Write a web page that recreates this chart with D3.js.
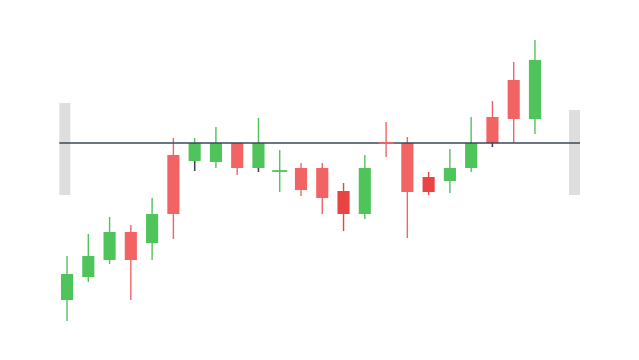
<!DOCTYPE html>
<html>
<head>
<meta charset="utf-8">
<script src="https://cdn.jsdelivr.net/npm/d3@7"></script>
<style>
  body { margin: 0; background: #fff; }
  svg { display: block; }
</style>
</head>
<body>
<svg id="chart" width="639" height="360"></svg>
<script>
// candle values, relative to the baseline (0)
const opens  = [-15.7, -13.4, -11.7, -8.9, -10.0, -1.2, -1.8, -1.9, 0, -2.5, -2.8, -2.5, -2.5, -4.8, -7.1, 0, 0, -3.4, -3.8, -2.5, 2.6, 6.3, 2.4]
const closes = [-13.1, -11.3, -8.9, -11.7, -7.1, -7.1, 0, 0, -2.5, 0, -2.8, -4.7, -5.5, -7.1, -2.5, 0, -4.9, -4.9, -2.5, 0, 0, 2.4, 8.3]
const highs  = [-11.3, -9.1, -7.4, -8.2, -5.5, 0.5, 0.5, 1.6, 0, 2.5, -0.7, -2.0, -2.0, -4.0, -1.2, 2.1, 0.6, -2.9, -0.6, 2.6, 4.2, 8.1, 10.3]
const lows   = [-17.8, -13.9, -12.1, -15.7, -11.7, -9.6, -2.8, -2.5, -3.2, -2.9, -4.9, -5.3, -7.1, -8.8, -7.6, -1.4, -9.5, -5.2, -5.0, -2.9, -0.4, 0, 0.9]
const tones  = ['up', 'up', 'up', 'down', 'up', 'down', 'up', 'up', 'down', 'up', 'up', 'down', 'down', 'deep', 'up', 'down', 'down', 'deep', 'up', 'up', 'down', 'down', 'up']
const darkTails = [6, 9, 20]
const baseline = 0
const handleLow = -5.2
const handleHigh = [4.0, 3.3]

const colors = { up: '#4fc45b', down: '#f26464', deep: '#e94343' }

const svg = d3.select('#chart')

const x = d3.scaleBand()
  .domain(d3.range(opens.length))
  .range([56.4, 545.6])
  .paddingInner(0.43)
  .paddingOuter(0.215)

const y = d3.scaleLinear()
  .domain([-20, 14.3])
  .range([343, 0])

const data = opens.map((o, i) => ({
  i, open: o, close: closes[i], high: highs[i], low: lows[i], tone: tones[i]
}))

// gray handles at the ends of the baseline
const lineX = [59.3, 580]
const hw = 11
svg.append('rect')
  .attr('x', lineX[0]).attr('y', y(handleHigh[0]))
  .attr('width', hw).attr('height', y(handleLow) - y(handleHigh[0]))
  .attr('fill', '#dedede')
svg.append('rect')
  .attr('x', lineX[1] - hw).attr('y', y(handleHigh[1]))
  .attr('width', hw).attr('height', y(handleLow) - y(handleHigh[1]))
  .attr('fill', '#dedede')

const g = svg.append('g')
const bw = x.bandwidth()
const cx = d => x(d.i) + bw / 2

// wicks
g.selectAll('line.wick')
  .data(data)
  .enter().append('line')
  .attr('class', 'wick')
  .attr('x1', cx).attr('x2', cx)
  .attr('y1', d => y(d.high))
  .attr('y2', d => y(d.low))
  .attr('stroke', d => colors[d.tone])
  .attr('stroke-width', 1.4)

// dark tail bits under a few candles
g.selectAll('line.tail')
  .data(data.filter(d => darkTails.includes(d.i)))
  .enter().append('line')
  .attr('class', 'tail')
  .attr('x1', cx).attr('x2', cx)
  .attr('y1', d => y(Math.min(d.open, d.close)))
  .attr('y2', d => y(d.low))
  .attr('stroke', '#3a4660')
  .attr('stroke-width', 1.4)

// bodies
g.selectAll('rect.body')
  .data(data.filter(d => d.open !== d.close))
  .enter().append('rect')
  .attr('class', 'body')
  .attr('x', d => x(d.i))
  .attr('width', bw)
  .attr('y', d => y(Math.max(d.open, d.close)))
  .attr('height', d => Math.abs(y(d.open) - y(d.close)))
  .attr('fill', d => colors[d.tone])

// baseline
svg.append('line')
  .attr('x1', lineX[0]).attr('x2', lineX[1])
  .attr('y1', y(baseline)).attr('y2', y(baseline))
  .attr('stroke', '#3b4759')
  .attr('stroke-width', 1.3)

// doji ticks, drawn over the baseline
svg.selectAll('line.doji')
  .data(data.filter(d => d.open === d.close))
  .enter().append('line')
  .attr('class', 'doji')
  .attr('x1', d => x(d.i) - 1.5).attr('x2', d => x(d.i) + bw + 1.5)
  .attr('y1', d => y(d.open)).attr('y2', d => y(d.open))
  .attr('stroke', d => colors[d.tone])
  .attr('stroke-width', 1.8)
</script>
</body>
</html>
